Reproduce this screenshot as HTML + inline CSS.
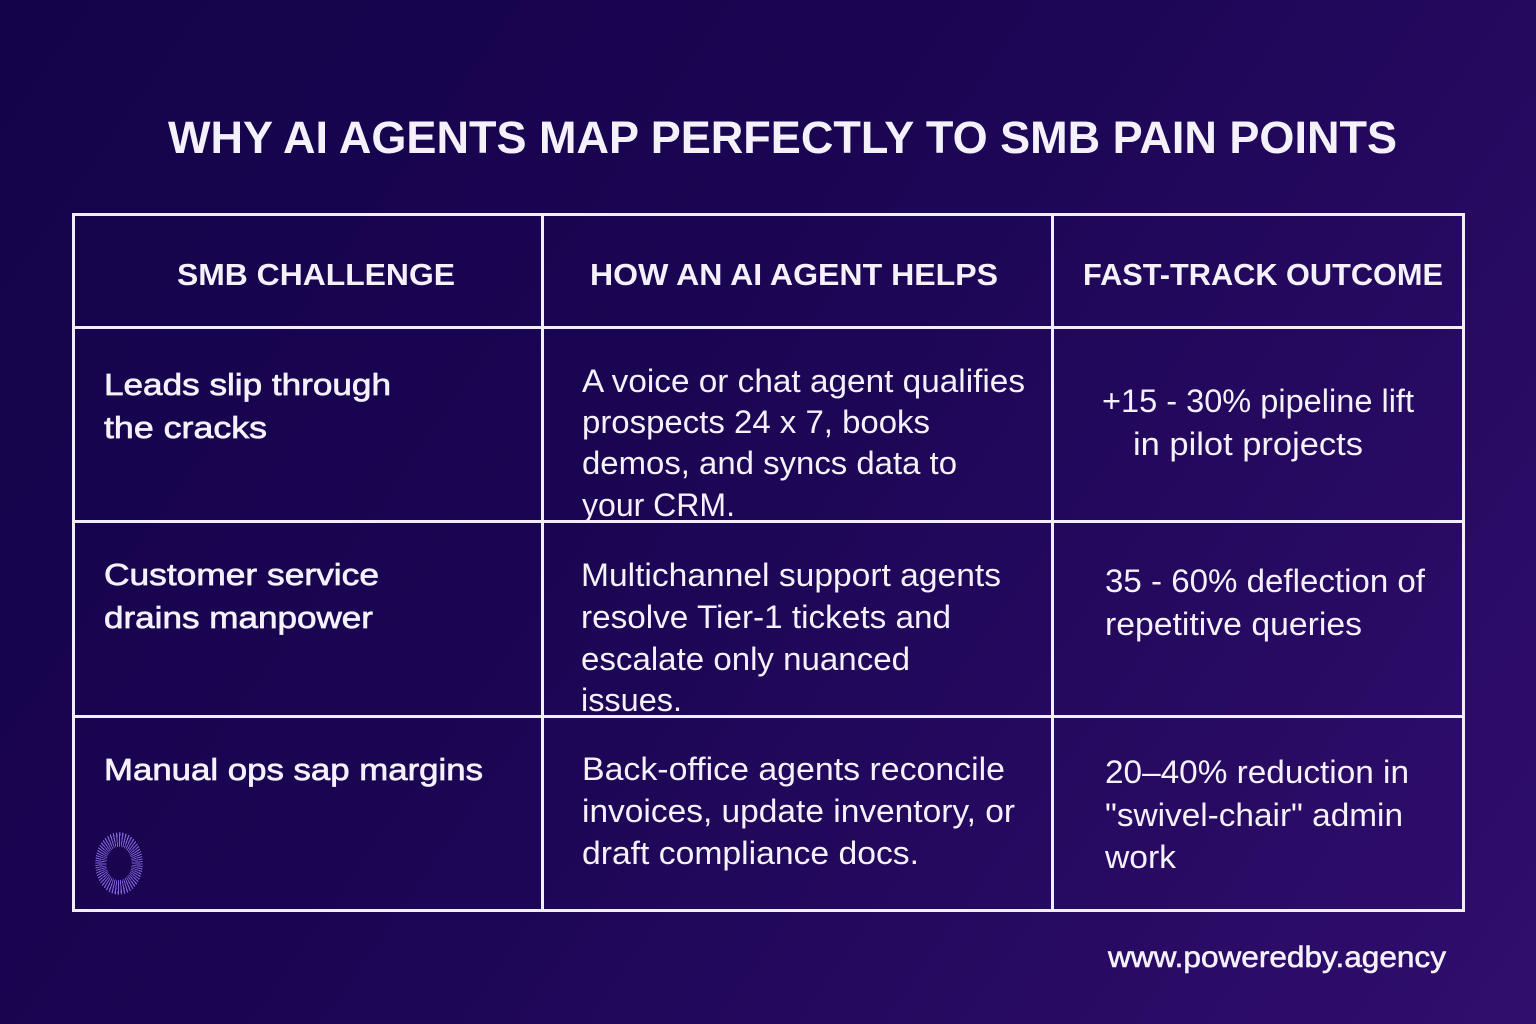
<!DOCTYPE html>
<html>
<head>
<meta charset="utf-8">
<style>
  html,body{margin:0;padding:0;}
  body{width:1536px;height:1024px;overflow:hidden;position:relative;
    background:linear-gradient(125deg,#14034a 0%,#1a0552 40%,#25095f 70%,#300e6d 100%);}
  svg{position:absolute;left:0;top:0;}
  .logo{position:absolute;left:95px;top:832px;width:48px;height:63px;border-radius:50%;
    background:repeating-conic-gradient(from 0deg,#8163d9 0deg 2.6deg,rgba(0,0,0,0) 2.6deg 6deg);
    -webkit-mask:radial-gradient(closest-side,transparent 52%,#000 54%,#000 98%,transparent 100%);
    mask:radial-gradient(closest-side,transparent 52%,#000 54%,#000 98%,transparent 100%);}
</style>
</head>
<body>
<svg width="1536" height="1024" viewBox="0 0 1536 1024" xmlns="http://www.w3.org/2000/svg">
  <g fill="none" stroke="#f2eef9" stroke-width="3">
    <rect x="73.5" y="214.5" width="1390" height="696"/>
    <line x1="542.5" y1="214" x2="542.5" y2="911"/>
    <line x1="1052.5" y1="214" x2="1052.5" y2="911"/>
    <line x1="73" y1="327.5" x2="1464" y2="327.5"/>
    <line x1="73" y1="521.5" x2="1464" y2="521.5"/>
    <line x1="73" y1="716.5" x2="1464" y2="716.5"/>
  </g>
  <g font-family="'Liberation Sans', sans-serif" fill="#f4f1fb" lengthAdjust="spacingAndGlyphs">
    <text x="168" y="153" font-size="45" font-weight="bold" textLength="1229" lengthAdjust="spacingAndGlyphs">WHY AI AGENTS MAP PERFECTLY TO SMB PAIN POINTS</text>

    <text x="177" y="285" font-size="31" font-weight="bold" textLength="278" lengthAdjust="spacingAndGlyphs">SMB CHALLENGE</text>
    <text x="590" y="285" font-size="31" font-weight="bold" textLength="408" lengthAdjust="spacingAndGlyphs">HOW AN AI AGENT HELPS</text>
    <text x="1083" y="285" font-size="31" font-weight="bold" textLength="360" lengthAdjust="spacingAndGlyphs">FAST-TRACK OUTCOME</text>

    <g font-size="31" stroke="#f4f1fb" stroke-width="0.7">
      <text x="104" y="395" textLength="287" lengthAdjust="spacingAndGlyphs">Leads slip through</text>
      <text x="104" y="438" textLength="163" lengthAdjust="spacingAndGlyphs">the cracks</text>
      <text x="104" y="585" textLength="275" lengthAdjust="spacingAndGlyphs">Customer service</text>
      <text x="104" y="628" textLength="269" lengthAdjust="spacingAndGlyphs">drains manpower</text>
      <text x="104" y="780" textLength="379" lengthAdjust="spacingAndGlyphs">Manual ops sap margins</text>
    </g>

    <g font-size="32">
      <text x="582" y="392" textLength="443" lengthAdjust="spacingAndGlyphs">A voice or chat agent qualifies</text>
      <text x="582" y="433" textLength="348" lengthAdjust="spacingAndGlyphs">prospects 24 x 7, books</text>
      <text x="582" y="474" textLength="375" lengthAdjust="spacingAndGlyphs">demos, and syncs data to</text>
      <text x="582" y="516" textLength="153" lengthAdjust="spacingAndGlyphs">your CRM.</text>

      <text x="581" y="586" textLength="420" lengthAdjust="spacingAndGlyphs">Multichannel support agents</text>
      <text x="581" y="628" textLength="370" lengthAdjust="spacingAndGlyphs">resolve Tier-1 tickets and</text>
      <text x="581" y="670" textLength="329" lengthAdjust="spacingAndGlyphs">escalate only nuanced</text>
      <text x="581" y="711" textLength="101" lengthAdjust="spacingAndGlyphs">issues.</text>

      <text x="582" y="780" textLength="423" lengthAdjust="spacingAndGlyphs">Back-office agents reconcile</text>
      <text x="582" y="822" textLength="433" lengthAdjust="spacingAndGlyphs">invoices, update inventory, or</text>
      <text x="582" y="864" textLength="337" lengthAdjust="spacingAndGlyphs">draft compliance docs.</text>

      <text x="1102" y="412" textLength="312" lengthAdjust="spacingAndGlyphs">+15 - 30% pipeline lift</text>
      <text x="1133" y="455" textLength="230" lengthAdjust="spacingAndGlyphs">in pilot projects</text>

      <text x="1105" y="592" textLength="320" lengthAdjust="spacingAndGlyphs">35 - 60% deflection of</text>
      <text x="1105" y="635" textLength="257" lengthAdjust="spacingAndGlyphs">repetitive queries</text>

      <text x="1105" y="783" textLength="304" lengthAdjust="spacingAndGlyphs">20–40% reduction in</text>
      <text x="1105" y="826" textLength="298" lengthAdjust="spacingAndGlyphs">"swivel-chair" admin</text>
      <text x="1105" y="868" textLength="71" lengthAdjust="spacingAndGlyphs">work</text>
    </g>

    <text x="1108" y="967" font-size="30" stroke="#f4f1fb" stroke-width="0.6" textLength="338" lengthAdjust="spacingAndGlyphs">www.poweredby.agency</text>
  </g>
</svg>
<div class="logo"></div>
</body>
</html>
